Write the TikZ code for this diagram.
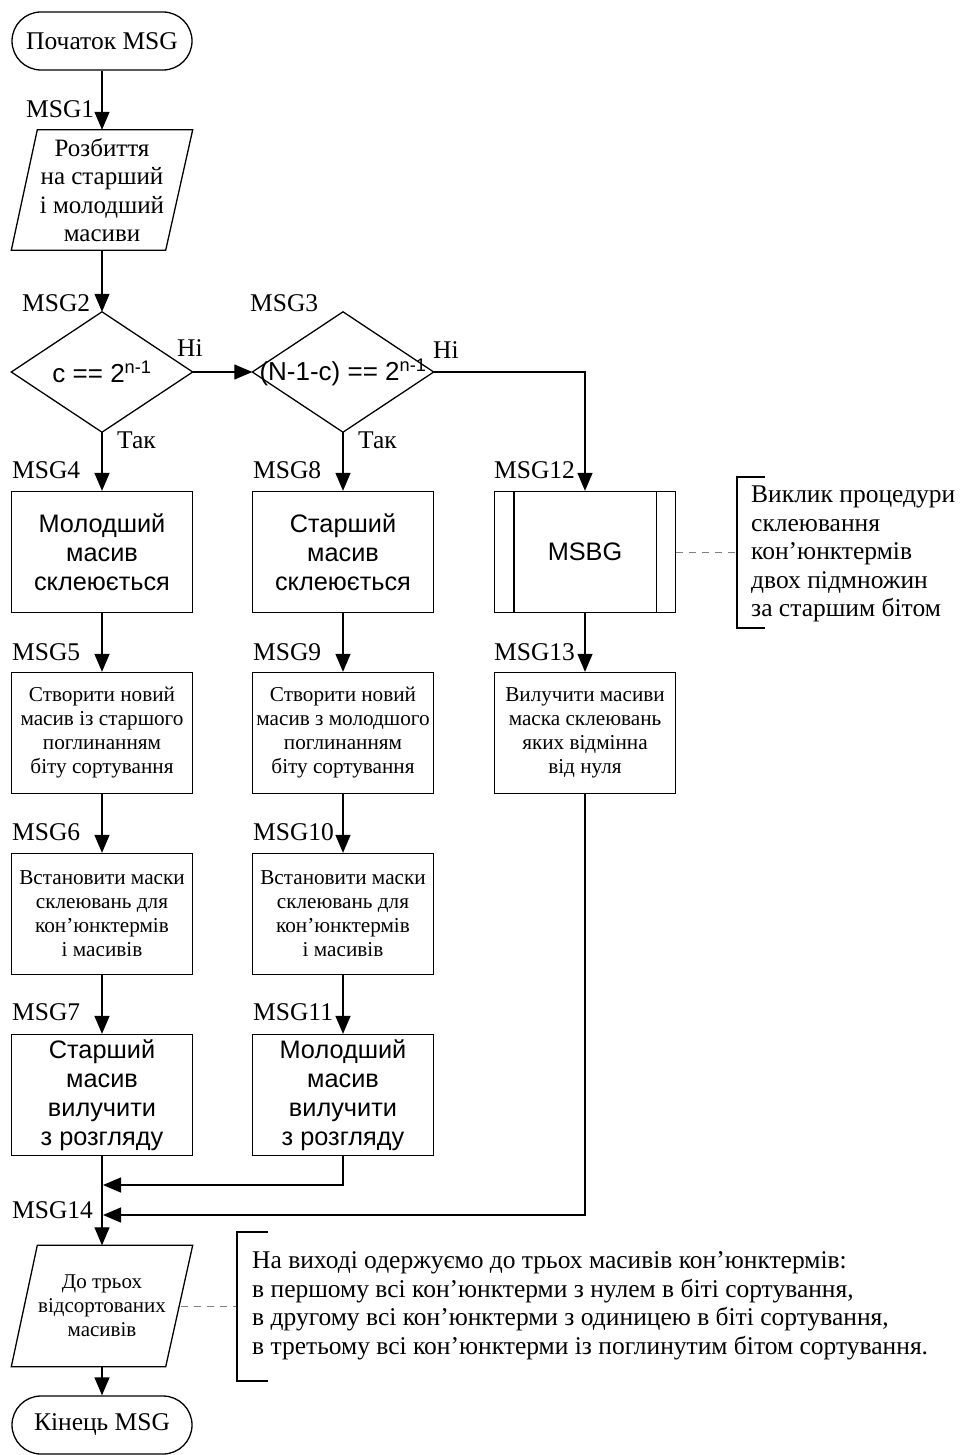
\documentclass[tikz,border=0pt]{standalone}
\usepackage{fontspec}
\setmainfont{Liberation Serif}
\setsansfont{Liberation Sans}
\usetikzlibrary{arrows.meta}
\begin{document}
\begin{tikzpicture}[x=1pt,y=-1pt,
  ln/.style={line width=1.3pt},
  arr/.style={ln,-{Triangle[length=18pt,width=15pt]}},
  box/.style={draw,ln,minimum width=181pt,minimum height=121pt,inner sep=0pt,align=center},
  shape0/.style={minimum width=181pt,minimum height=120pt,inner sep=0pt,align=center},
  sbig/.style={font=\sffamily\fontsize{25.3}{29}\selectfont},
  ssmall/.style={font=\fontsize{21.2}{24}\selectfont},
  lbl/.style={font=\fontsize{25.5}{28}\selectfont,inner sep=0pt,anchor=base west},
  term/.style={draw,ln,rounded corners=29pt,minimum width=180pt,minimum height=58pt,inner sep=0pt,font=\fontsize{25.5}{28}\selectfont},
  note/.style={font=\fontsize{25.5}{28.5}\selectfont,inner sep=0pt,anchor=west,align=left},
  dsh/.style={line width=0.9pt,dashed,dash pattern=on 7pt off 6pt,gray}
]
\useasboundingbox (0,0) rectangle (961,1455);

% start
\node[term] (start) at (102,41) {Початок MSG};

% MSG1 parallelogram
\node[shape0,font=\fontsize{25}{28.5}\selectfont] (p1) at (102,190) {Розбиття\\на старший\\і молодший\\масиви};
\draw[ln] ([xshift=26pt]p1.north west) -- (p1.north east) -- ([xshift=-27pt]p1.south east) -- (p1.south west) -- cycle;

% diamonds
\node[shape0,sbig,font=\sffamily\fontsize{26}{29}\selectfont] (d1) at (102,372) {c == 2\textsuperscript{n-1}};
\draw[ln] (d1.north) -- (d1.east) -- (d1.south) -- (d1.west) -- cycle;
\node[shape0,sbig,font=\sffamily\fontsize{26}{29}\selectfont] (d2) at (343,372) {(N-1-c) == 2\textsuperscript{n-1}};
\draw[ln] (d2.north) -- (d2.east) -- (d2.south) -- (d2.west) -- cycle;

% row MSG4/8/12
\node[box,sbig] (b4) at (102,552) {Молодший\\масив\\склеюється};
\node[box,sbig] (b8) at (343,552) {Старший\\масив\\склеюється};
\node[box,sbig] (msbg) at (585,552) {MSBG};
\draw[ln] ([xshift=20pt]msbg.north west) -- ([xshift=20pt]msbg.south west);
\draw[ln] ([xshift=-20pt]msbg.north east) -- ([xshift=-20pt]msbg.south east);

% row MSG5/9/13
\node[box,ssmall] (b5) at (102,733) {Створити новий\\масив із старшого\\поглинанням\\біту сортування};
\node[box,ssmall] (b9) at (343,733) {Створити новий\\масив з молодшого\\поглинанням\\біту сортування};
\node[box,ssmall] (b13) at (585,733) {Вилучити масиви\\маска склеювань\\яких відмінна\\від нуля};

% row MSG6/10
\node[box,ssmall] (b6) at (102,914) {Встановити маски\\склеювань для\\кон’юнктермів\\і масивів};
\node[box,ssmall] (b10) at (343,914) {Встановити маски\\склеювань для\\кон’юнктермів\\і масивів};

% row MSG7/11
\node[box,sbig] (b7) at (102,1095) {Старший\\масив\\вилучити\\з розгляду};
\node[box,sbig] (b11) at (343,1095) {Молодший\\масив\\вилучити\\з розгляду};

% MSG14 parallelogram
\node[shape0,minimum height=121pt,font=\fontsize{21}{24}\selectfont] (p14) at (102,1306) {До трьох\\відсортованих\\масивів};
\draw[ln] ([xshift=26pt]p14.north west) -- (p14.north east) -- ([xshift=-27pt]p14.south east) -- (p14.south west) -- cycle;

% end
\node[term] (end) at (102,1425) {Кінець MSG};

% connectors
\draw[arr] (start.south) -- (p1.north);
\draw[arr] (p1.south) -- (d1.north);
\draw[arr] (d1.east) -- (d2.west);
\draw[arr] (d2.east) -| (msbg.north);
\draw[arr] (d1.south) -- (b4.north);
\draw[arr] (d2.south) -- (b8.north);
\draw[arr] (b4.south) -- (b5.north);
\draw[arr] (b5.south) -- (b6.north);
\draw[arr] (b6.south) -- (b7.north);
\draw[arr] (b8.south) -- (b9.north);
\draw[arr] (b9.south) -- (b10.north);
\draw[arr] (b10.south) -- (b11.north);
\draw[arr] (msbg.south) -- (b13.north);
\draw[arr] (b7.south) -- (p14.north);
\coordinate (m1) at (103,1185);
\coordinate (m2) at (103,1215);
\draw[arr] (b11.south) |- (m1);
\draw[arr] (b13.south) |- (m2);
\draw[arr] (p14.south) -- (end.north);

% labels
\node[lbl] (l1) at (26,118) {MSG1};
\node[lbl] (l2) at (22,311) {MSG2};
\node[lbl] (l3) at (250,311) {MSG3};
\node[lbl] (l4) at (12,478) {MSG4};
\node[lbl] (l8) at (253,478) {MSG8};
\node[lbl] (l12) at (494,478) {MSG12};
\node[lbl] (l5) at (12,660) {MSG5};
\node[lbl] (l9) at (253,660) {MSG9};
\node[lbl] (l13) at (494,660) {MSG13};
\node[lbl] (l6) at (12,840) {MSG6};
\node[lbl] (l10) at (253,840) {MSG10};
\node[lbl] (l7) at (12,1020) {MSG7};
\node[lbl] (l11) at (253,1020) {MSG11};
\node[lbl] (l14) at (12,1218) {MSG14};
\node[lbl] (n1) at (177,356) {Ні};
\node[lbl] (n2) at (433,358) {Ні};
\node[lbl] (t1) at (117,448) {Так};
\node[lbl] (t2) at (358,448) {Так};

% annotation 1
\coordinate (a1) at (737,552);
\draw[dsh] (msbg.east) -- (a1);
\draw[ln] (765,477) -- (737,477) -- (737,628) -- (765,628);
\node[note] (txt1) at (751,554) {Виклик процедури\\склеювання\\кон’юнктермів\\двох підмножин\\за старшим бітом};

% annotation 2
\coordinate (a2) at (237,1306);
\draw[dsh] (p14.east) ++(-12pt,0) -- (a2);
\draw[ln] (268,1232) -- (237,1232) -- (237,1381) -- (268,1381);
\node[note] (txt2) at (252,1306) {На виході одержуємо до трьох масивів кон’юнктермів:\\в першому всі кон’юнктерми з нулем в біті сортування,\\в другому всі кон’юнктерми з одиницею в біті сортування,\\в третьому всі кон’юнктерми із поглинутим бітом сортування.};
\end{tikzpicture}
\end{document}
